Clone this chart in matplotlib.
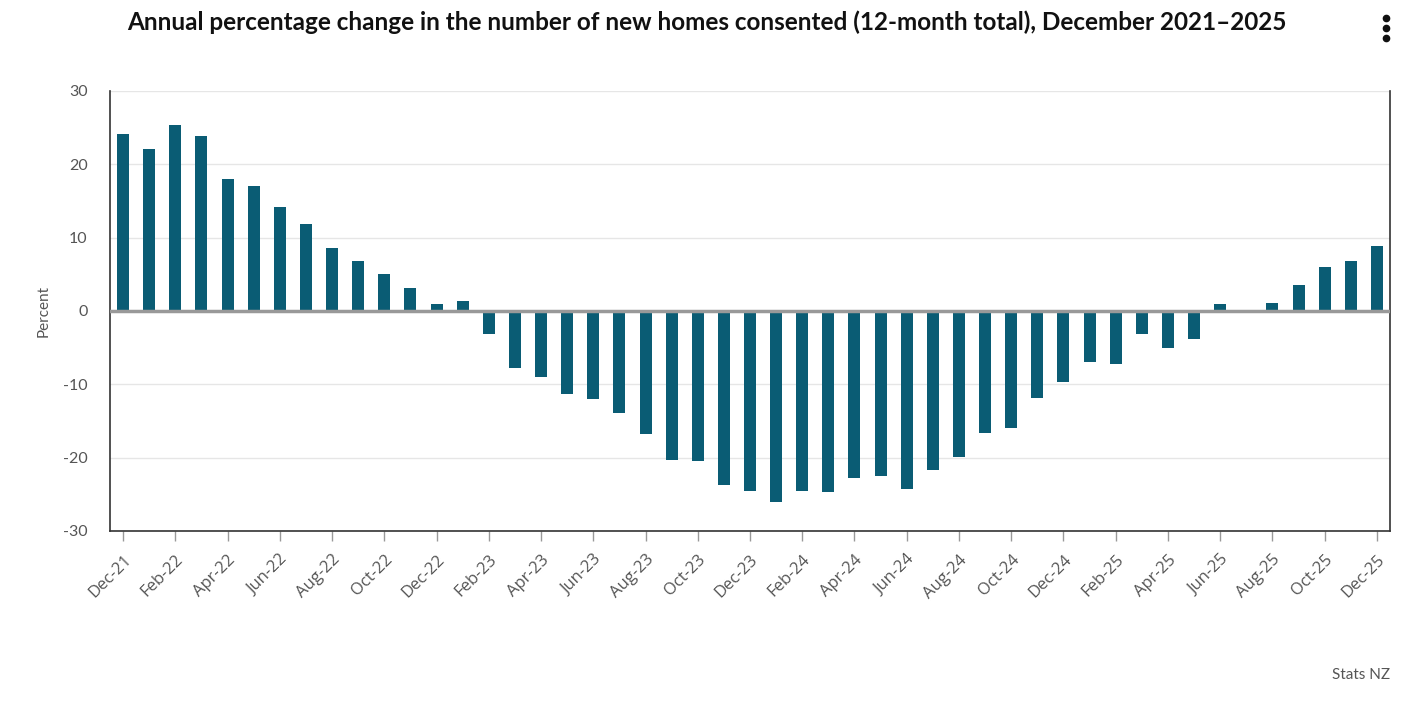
import numpy as np
import matplotlib
matplotlib.use("Agg")
import matplotlib.pyplot as plt
from matplotlib.lines import Line2D

# Dec 2021 to Dec 2025, annual % change in new homes consented (12-month total)
months = ['Dec-21',
          'Jan-22', 'Feb-22', 'Mar-22', 'Apr-22', 'May-22', 'Jun-22',
          'Jul-22', 'Aug-22', 'Sep-22', 'Oct-22', 'Nov-22', 'Dec-22',
          'Jan-23', 'Feb-23', 'Mar-23', 'Apr-23', 'May-23', 'Jun-23',
          'Jul-23', 'Aug-23', 'Sep-23', 'Oct-23', 'Nov-23', 'Dec-23',
          'Jan-24', 'Feb-24', 'Mar-24', 'Apr-24', 'May-24', 'Jun-24',
          'Jul-24', 'Aug-24', 'Sep-24', 'Oct-24', 'Nov-24', 'Dec-24',
          'Jan-25', 'Feb-25', 'Mar-25', 'Apr-25', 'May-25', 'Jun-25',
          'Jul-25', 'Aug-25', 'Sep-25', 'Oct-25', 'Nov-25', 'Dec-25']
pct_change = [24.1,
              22.1, 25.4, 23.9, 18.0, 17.0, 14.2,
              11.9, 8.6, 6.8, 5.0, 3.1, 1.0,
              1.4, -3.1, -7.8, -9.0, -11.3, -12.0,
              -13.9, -16.8, -20.3, -20.5, -23.7, -24.5,
              -26.0, -24.5, -24.7, -22.8, -22.5, -24.3,
              -21.7, -19.9, -16.6, -16.0, -11.9, -9.7,
              -7.0, -7.2, -3.1, -5.0, -3.8, 0.9,
              np.nan, 1.1, 3.5, 6.0, 6.8, 8.9]
y_ticks = [-30, -20, -10, 0, 10, 20, 30]

bar_color = '#0a5c74'
text_grey = '#555555'

fig = plt.figure(figsize=(14.18, 7.08), dpi=100)
ax = fig.add_axes([110 / 1418, 1 - 531 / 708, 1280 / 1418, 440 / 708])

x = np.arange(len(months))
ax.bar(x, pct_change, width=0.46, color=bar_color, zorder=3)

ax.set_xlim(-0.5, len(months) - 0.5)
ax.set_ylim(-30, 30)
ax.set_yticks(y_ticks)
ax.set_yticklabels([str(v) for v in y_ticks], fontsize=11.5, color=text_grey,
                   family='Lato')
ax.tick_params(axis='y', length=0, pad=16)
ax.grid(axis='y', color='#e6e6e6', linewidth=1, zorder=0)
ax.axhline(0, color='#999999', linewidth=2.5, zorder=4)

ax.set_xticks(x[::2])
ax.set_xticklabels(months[::2], rotation=45, ha='right', rotation_mode='anchor',
                   fontsize=12, color=text_grey, family='Open Sans')
ax.tick_params(axis='x', length=7, color='#999999', width=1, pad=8)

for side in ['left', 'bottom', 'right']:
    ax.spines[side].set_color('#333333')
    ax.spines[side].set_linewidth(1.2)
ax.spines['top'].set_visible(False)

ax.set_ylabel('Percent', fontsize=11, color=text_grey, family='Lato', labelpad=9)

fig.text(707 / 1418, 1 - 22 / 708,
         'Annual percentage change in the number of new homes consented (12-month total), December 2021\u20132025',
         ha='center', va='center', fontsize=17.5, fontweight='bold', family='Lato',
         color='#111111')
fig.text(1390 / 1418, 1 - 675 / 708, 'Stats NZ', ha='right', va='center',
         fontsize=11, color=text_grey, family='Lato')

# menu icon (three dots)
fig.add_artist(Line2D([1386 / 1418] * 3, [1 - 18 / 708, 1 - 28 / 708, 1 - 38 / 708],
                      transform=fig.transFigure, linestyle='none', marker='o',
                      markersize=4.5, color='#111111'))

fig.savefig('out.png', dpi=100)
